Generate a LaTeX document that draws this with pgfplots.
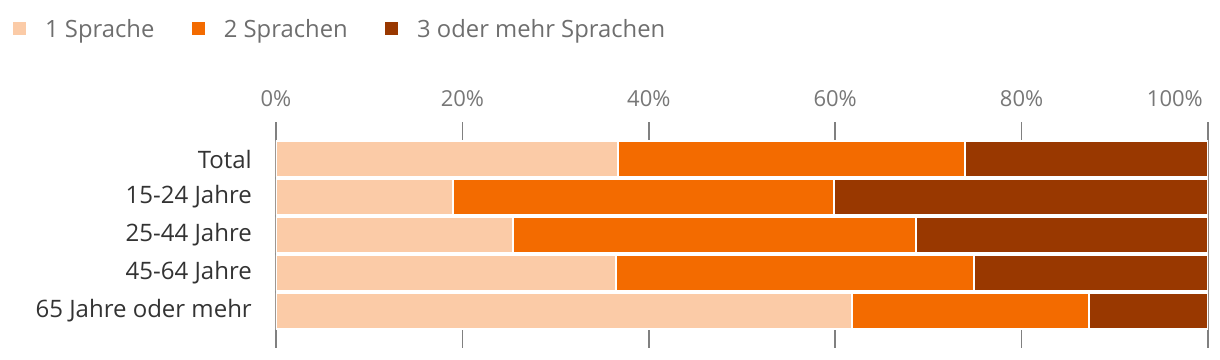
\documentclass[border=0pt]{standalone}
\usepackage{pgfplots}
\pgfplotsset{compat=1.18}
\usepackage{fontspec}
\setmainfont{Open Sans}
\definecolor{c1}{HTML}{FBCBA7}
\definecolor{c2}{HTML}{F36B00}
\definecolor{c3}{HTML}{993800}
\definecolor{tickc}{HTML}{777777}
\definecolor{legc}{HTML}{6E6E6E}
\definecolor{labc}{HTML}{333333}
\definecolor{gridc}{HTML}{808080}
\begin{document}
\begin{tikzpicture}
\begin{axis}[name=ax, scale only axis, width=932pt, height=226pt,
 xbar stacked, bar width=36pt,
 xmin=0, xmax=100, ymin=-0.974, ymax=4.974,
 ytick={0,1,2,3,4},
 yticklabels={65 Jahre oder mehr,45-64 Jahre,25-44 Jahre,15-24 Jahre,Total},
 xtick={0,20,40,60,80}, xticklabels={0\%,20\%,40\%,60\%,80\%},
 extra x ticks={100}, extra x tick labels={100\%},
 extra x tick style={grid=major, xticklabel style={anchor=base east, xshift=-5pt}},
 xticklabel pos=upper,
 xmajorgrids, major grid style={draw=gridc, line width=1.6pt},
 axis line style={draw=none}, major tick length=0pt,
 xticklabel style={font=\fontsize{22}{26}\selectfont, text=tickc, anchor=base, inner sep=0pt, yshift=15pt},
 yticklabel style={font=\fontsize{24}{28}\selectfont, text=labc, anchor=east, inner sep=0pt, xshift=-24pt},
 legend columns=3,
 legend style={draw=none, fill=none, inner sep=0pt, at={(axis description cs:0,1)}, anchor=west,
   xshift=-265pt, yshift=93pt, font=\fontsize{23.8}{28}\selectfont, text=legc,
   nodes={inner sep=0pt},
   /tikz/every odd column/.append style={column sep=17pt},
   /tikz/every even column/.append style={column sep=35.5pt}},
 legend image code/.code={\fill[#1] (0pt,-7.5pt) rectangle (15pt,7.5pt);},
]
\addplot[fill=c1, draw=white, line width=2pt] coordinates {(61.8,0) (36.5,1) (25.4,2) (19.0,3) (36.7,4)};
\addplot[fill=c2, draw=white, line width=2pt] coordinates {(25.4,0) (38.4,1) (43.3,2) (40.9,3) (37.2,4)};
\addplot[fill=c3, draw=white, line width=2pt] coordinates {(12.8,0) (25.1,1) (31.3,2) (40.1,3) (26.1,4)};
\legend{1 Sprache, 2 Sprachen, 3 oder mehr Sprachen}
\end{axis}
\path ([xshift=-276pt,yshift=-12pt]ax.south west) rectangle ([xshift=12pt,yshift=122pt]ax.north east);
\end{tikzpicture}
\end{document}
